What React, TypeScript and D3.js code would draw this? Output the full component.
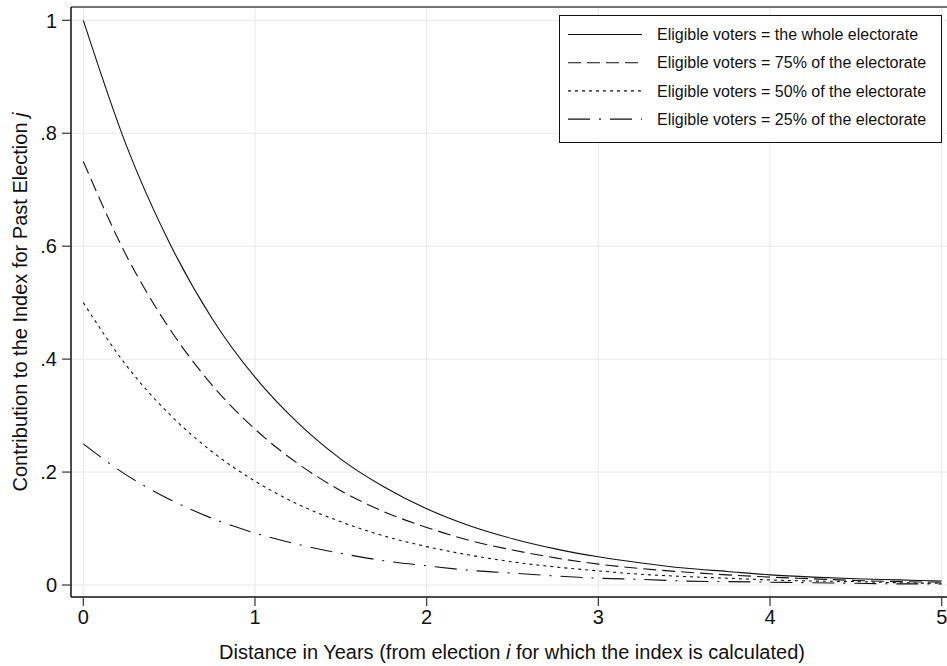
import React, { useEffect, useRef } from 'react';
import * as d3 from 'd3';

// years since election (read at quarter-year steps)
const years = [0, 0.25, 0.5, 0.75, 1, 1.25, 1.5, 1.75, 2, 2.25, 2.5, 2.75, 3, 3.25, 3.5, 3.75, 4, 4.25, 4.5, 4.75, 5];

const whole = [1, 0.779, 0.607, 0.472, 0.368, 0.287, 0.223, 0.174, 0.135, 0.105, 0.082, 0.064, 0.05, 0.039, 0.03, 0.024, 0.018, 0.014, 0.011, 0.009, 0.007];
const pct75 = [0.75, 0.584, 0.455, 0.354, 0.276, 0.215, 0.167, 0.13, 0.102, 0.079, 0.062, 0.048, 0.037, 0.029, 0.023, 0.018, 0.014, 0.011, 0.008, 0.006, 0.005];
const pct50 = [0.5, 0.389, 0.303, 0.236, 0.184, 0.143, 0.112, 0.087, 0.068, 0.053, 0.041, 0.032, 0.025, 0.019, 0.015, 0.012, 0.009, 0.007, 0.006, 0.004, 0.003];
const pct25 = [0.25, 0.195, 0.152, 0.118, 0.092, 0.072, 0.056, 0.043, 0.034, 0.026, 0.021, 0.016, 0.012, 0.01, 0.007, 0.006, 0.005, 0.004, 0.003, 0.002, 0.002];

const seriesLabels = [
  'Eligible voters = the whole electorate',
  'Eligible voters = 75% of the electorate',
  'Eligible voters = 50% of the electorate',
  'Eligible voters = 25% of the electorate',
];

const xTicks = [0, 1, 2, 3, 4, 5];
const yTicks = [0, 0.2, 0.4, 0.6, 0.8, 1];
const yTickLabels = ['0', '.2', '.4', '.6', '.8', '1'];

const dashes = ['none', '13,6', '3,4', '22,9,2,9'];

const FONT = '"Liberation Sans", Arial, Helvetica, sans-serif';

export default function App() {
  const ref = useRef<SVGSVGElement>(null);

  useEffect(() => {
    const svg = d3.select(ref.current);
    svg.selectAll('*').remove();

    const width = 947;
    const height = 666;

    const x = d3.scaleLinear().domain([0, 5]).range([83.3, 941.7]);
    const y = d3.scaleLinear().domain([0, 1]).range([585, 20.3]);

    const left = 71;
    const top = 7;
    const bottom = 597;

    svg.append('rect').attr('width', width).attr('height', height).attr('fill', '#fff');

    // grid
    svg.append('g')
      .selectAll('line')
      .data(xTicks)
      .enter()
      .append('line')
      .attr('x1', (d) => x(d))
      .attr('x2', (d) => x(d))
      .attr('y1', top)
      .attr('y2', bottom)
      .attr('stroke', '#e8e8e8')
      .attr('stroke-width', 1);
    svg.append('g')
      .selectAll('line')
      .data(yTicks)
      .enter()
      .append('line')
      .attr('x1', left)
      .attr('x2', width)
      .attr('y1', (d) => y(d))
      .attr('y2', (d) => y(d))
      .attr('stroke', '#e8e8e8')
      .attr('stroke-width', 1);

    // series
    const allSeries = [whole, pct75, pct50, pct25];
    const line = d3
      .line<number>()
      .x((d, i) => x(years[i]))
      .y((d) => y(d))
      .curve(d3.curveMonotoneX);

    svg.append('g')
      .selectAll('path')
      .data(allSeries)
      .enter()
      .append('path')
      .attr('d', (d) => line(d))
      .attr('fill', 'none')
      .attr('stroke', '#111')
      .attr('stroke-width', 1.1)
      .attr('stroke-dasharray', (d, i) => dashes[i]);

    // frame
    svg.append('line')
      .attr('x1', left).attr('x2', width).attr('y1', top).attr('y2', top)
      .attr('stroke', '#444').attr('stroke-width', 1.5);
    svg.append('line')
      .attr('x1', left).attr('x2', left).attr('y1', top).attr('y2', bottom)
      .attr('stroke', '#111').attr('stroke-width', 1.5);
    svg.append('line')
      .attr('x1', left).attr('x2', width).attr('y1', bottom).attr('y2', bottom)
      .attr('stroke', '#111').attr('stroke-width', 1.5);

    // y ticks
    const yAxis = svg.append('g');
    yAxis.selectAll('line')
      .data(yTicks)
      .enter()
      .append('line')
      .attr('x1', 62)
      .attr('x2', left)
      .attr('y1', (d) => y(d))
      .attr('y2', (d) => y(d))
      .attr('stroke', '#333')
      .attr('stroke-width', 1.2);
    yAxis.selectAll('text')
      .data(yTicks)
      .enter()
      .append('text')
      .attr('x', 57)
      .attr('y', (d) => y(d))
      .attr('dy', '0.36em')
      .attr('text-anchor', 'end')
      .style('font-family', FONT)
      .style('font-size', '20px')
      .attr('fill', '#111')
      .text((d, i) => yTickLabels[i]);

    // x ticks
    const xAxis = svg.append('g');
    xAxis.selectAll('line')
      .data(xTicks)
      .enter()
      .append('line')
      .attr('x1', (d) => x(d))
      .attr('x2', (d) => x(d))
      .attr('y1', bottom)
      .attr('y2', 606)
      .attr('stroke', '#333')
      .attr('stroke-width', 1.2);
    xAxis.selectAll('text')
      .data(xTicks)
      .enter()
      .append('text')
      .attr('x', (d) => x(d))
      .attr('y', 624)
      .attr('text-anchor', 'middle')
      .style('font-family', FONT)
      .style('font-size', '20px')
      .attr('fill', '#111')
      .text((d) => String(d));

    // axis titles
    const xt = svg.append('text')
      .attr('x', 512)
      .attr('y', 659)
      .attr('text-anchor', 'middle')
      .style('font-family', FONT)
      .style('font-size', '20px')
      .attr('fill', '#111');
    xt.append('tspan').text('Distance in Years (from election ');
    xt.append('tspan').style('font-style', 'italic').text('i');
    xt.append('tspan').text(' for which the index is calculated)');

    const yt = svg.append('text')
      .attr('transform', 'translate(27,302) rotate(-90)')
      .attr('text-anchor', 'middle')
      .style('font-family', FONT)
      .style('font-size', '20px')
      .attr('fill', '#111');
    yt.append('tspan').text('Contribution to the Index for Past Election ');
    yt.append('tspan').style('font-style', 'italic').text('j');

    // legend
    const lg = svg.append('g');
    lg.append('rect')
      .attr('x', 559.5)
      .attr('y', 15.5)
      .attr('width', 382)
      .attr('height', 127)
      .attr('fill', '#fff')
      .attr('stroke', '#111')
      .attr('stroke-width', 1);
    const rows = lg.selectAll('g')
      .data(seriesLabels)
      .enter()
      .append('g')
      .attr('transform', (d, i) => `translate(0,${34.5 + i * 28.2})`);
    rows.append('line')
      .attr('x1', 568)
      .attr('x2', 642)
      .attr('y1', 0)
      .attr('y2', 0)
      .attr('stroke', '#111')
      .attr('stroke-width', 1.1)
      .attr('stroke-dasharray', (d, i) => dashes[i]);
    rows.append('text')
      .attr('x', 657)
      .attr('y', 0)
      .attr('dy', '0.36em')
      .style('font-family', FONT)
      .style('font-size', '16px')
      .attr('fill', '#111')
      .text((d) => d);
  }, []);

  return (
    <svg
      ref={ref}
      width={947}
      height={666}
      style={{ position: 'absolute', left: 0, top: 0, display: 'block' }}
    />
  );
}
